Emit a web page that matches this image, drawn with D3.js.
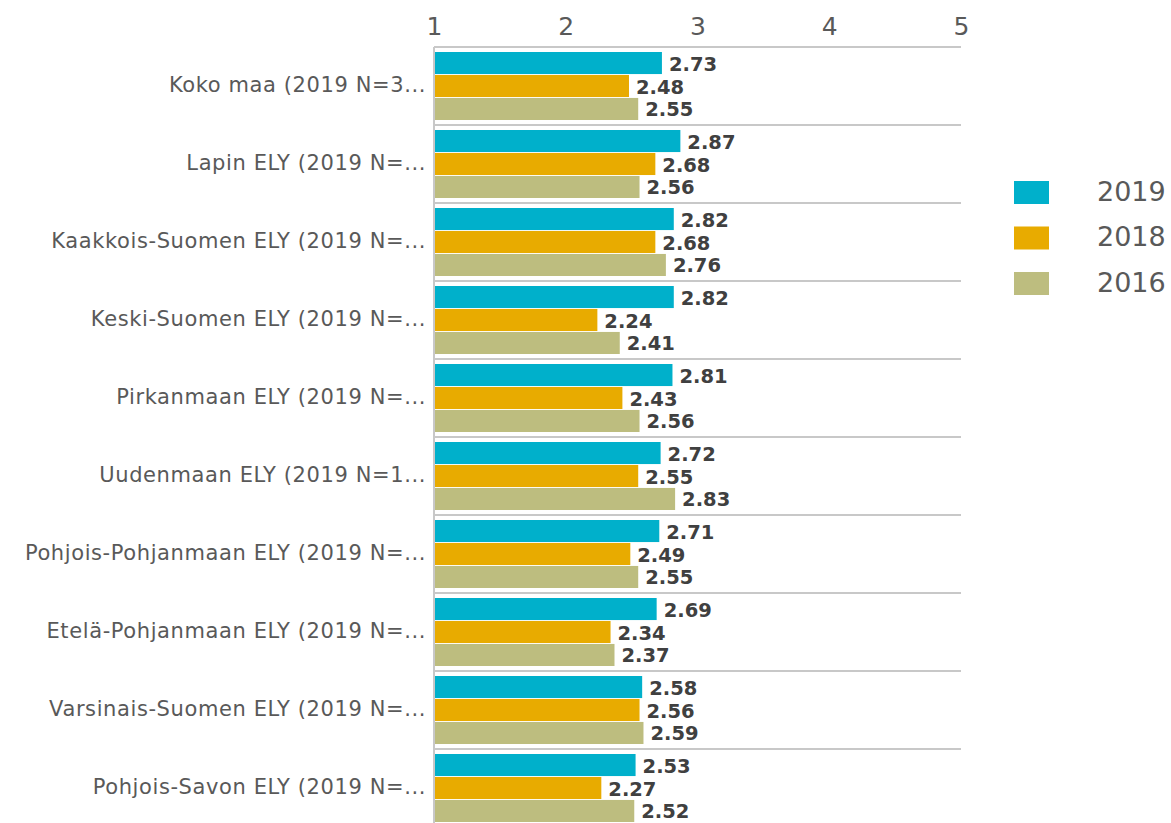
<!DOCTYPE html>
<html><head><meta charset="utf-8">
<script src="https://cdn.jsdelivr.net/npm/d3@7"></script>
<style>body{margin:0;background:#fff;} svg{display:block;font-family:"DejaVu Sans",Verdana,sans-serif;}</style>
</head><body>
<svg id="c" width="1171" height="823"></svg>
<script>
const categories = ["Koko maa (2019 N=3...","Lapin ELY (2019 N=...","Kaakkois-Suomen ELY (2019 N=...","Keski-Suomen ELY (2019 N=...","Pirkanmaan ELY (2019 N=...","Uudenmaan ELY (2019 N=1...","Pohjois-Pohjanmaan ELY (2019 N=...","Etelä-Pohjanmaan ELY (2019 N=...","Varsinais-Suomen ELY (2019 N=...","Pohjois-Savon ELY (2019 N=..."];
const seriesNames = ["2019","2018","2016"];
const v2019 = [2.73,2.87,2.82,2.82,2.81,2.72,2.71,2.69,2.58,2.53];
const v2018 = [2.48,2.68,2.68,2.24,2.43,2.55,2.49,2.34,2.56,2.27];
const v2016 = [2.55,2.56,2.76,2.41,2.56,2.83,2.55,2.37,2.59,2.52];
const tickValues = [1,2,3,4,5];
const colors = ["#00B0CB","#E8AB00","#BDBD7F"];

const series = [v2019, v2018, v2016];
const svg = d3.select("#c");
const x = d3.scaleLinear().domain([1,5]).range([434,961]);
const y = d3.scaleBand().domain(categories).range([47,47+78*categories.length]);
const inner = d3.scaleBand().domain(seriesNames).range([5,73]).paddingInner(0.04);

// top axis
const ax = svg.append("g").attr("transform","translate(0,47)")
  .call(d3.axisTop(x).tickValues(tickValues).tickSize(0).tickPadding(10).tickFormat(d3.format("d")));
ax.select(".domain").remove();
ax.selectAll("text").attr("font-size",25).attr("fill","#595959").attr("font-family","DejaVu Sans, sans-serif").attr("dy","-0.1em");

// separator lines
svg.append("g").selectAll("line").data(categories).join("line")
  .attr("x1",x(1)).attr("x2",x(5)).attr("y1",d=>y(d)).attr("y2",d=>y(d))
  .attr("stroke","#C8C8C8").attr("stroke-width",2);
// vertical axis line
svg.append("line").attr("x1",x(1)).attr("x2",x(1)).attr("y1",47).attr("y2",823)
  .attr("stroke","#C8C8C8").attr("stroke-width",2);

// bars
const g = svg.append("g");
categories.forEach((c,i)=>{
  series.forEach((s,j)=>{
    const by = y(c)+inner(seriesNames[j]);
    g.append("rect").attr("x",x(1)+1).attr("y",by).attr("width",x(s[i])-x(1)-1).attr("height",inner.bandwidth()).attr("fill",colors[j]);
    g.append("text").attr("x",x(s[i])+7).attr("y",by+inner.bandwidth()/2+2).attr("dominant-baseline","middle")
      .attr("font-size",19.5).attr("font-weight","bold").attr("fill","#404040").text(s[i].toFixed(2));
  });
});

// category labels
svg.append("g").selectAll("text").data(categories).join("text")
  .attr("x",426).attr("y",d=>y(d)+y.bandwidth()/2).attr("text-anchor","end").attr("dominant-baseline","middle")
  .attr("font-size",21).attr("letter-spacing","0.6").attr("fill","#595959").text(d=>d);

// legend
const lg = svg.append("g");
seriesNames.forEach((n,j)=>{
  lg.append("rect").attr("x",1014).attr("y",181+j*45.5).attr("width",35).attr("height",23).attr("fill",colors[j]);
  lg.append("text").attr("x",1097).attr("y",193+j*45.5).attr("dominant-baseline","middle").attr("font-size",27).attr("fill","#595959").text(n);
});
</script>
</body></html>
